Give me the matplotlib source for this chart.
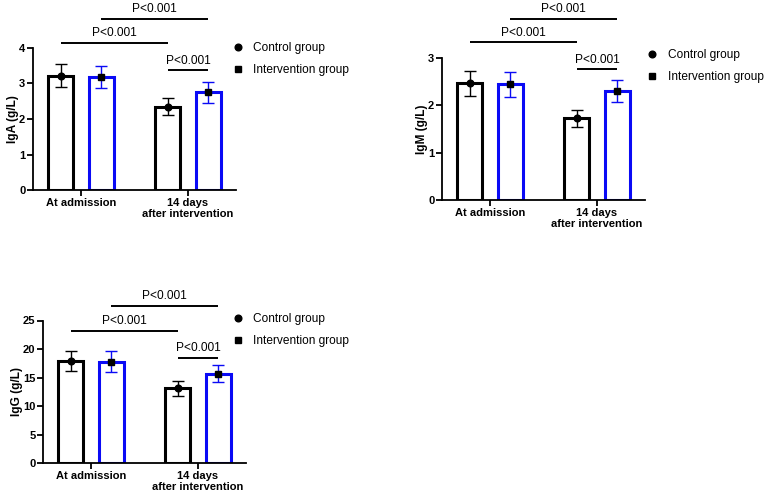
import numpy as np
import matplotlib
matplotlib.use("Agg")
import matplotlib.pyplot as plt
from matplotlib.lines import Line2D

plt.rcParams['font.family'] = ['Liberation Sans', 'DejaVu Sans']

categories = ['At admission', '14 days\nafter intervention']
groups = ['Control group', 'Intervention group']

iga_mean = {'Control group': [3.21, 2.34], 'Intervention group': [3.17, 2.75]}
iga_sd = {'Control group': [0.32, 0.24], 'Intervention group': [0.31, 0.29]}
igm_mean = {'Control group': [2.46, 1.72], 'Intervention group': [2.44, 2.30]}
igm_sd = {'Control group': [0.26, 0.18], 'Intervention group': [0.26, 0.24]}
igg_mean = {'Control group': [17.9, 13.1], 'Intervention group': [17.8, 15.7]}
igg_sd = {'Control group': [1.8, 1.3], 'Intervention group': [1.8, 1.5]}

# significance brackets: (bar from, bar to, height)
iga_sig = [(1, 3, 4.81), (0, 2, 4.14), (2, 3, 3.37)]
igm_sig = [(1, 3, 3.82), (0, 2, 3.32), (2, 3, 2.76)]
igg_sig = [(1, 3, 27.6), (0, 2, 23.2), (2, 3, 18.5)]
sig_label = 'P<0.001'

colors = {'Control group': 'black', 'Intervention group': '#0a0af5'}
markers = {'Control group': 'o', 'Intervention group': 's'}
offsets = {'Control group': -0.19, 'Intervention group': 0.19}

W, H = 767, 498
fig = plt.figure(figsize=(W / 100, H / 100), dpi=100)


def px_axes(left, top, w, h):
    return fig.add_axes([left / W, 1 - (top + h) / H, w / W, h / H])


def panel(ax, means, sds, sigs, ylabel, ymax, ystep, leg_anchor):
    x = np.arange(len(categories))
    centers = []
    for g in groups:
        xs = x + offsets[g]
        ax.bar(xs, means[g], width=0.23, facecolor='white',
               edgecolor=colors[g], linewidth=2.2, zorder=2)
        ax.errorbar(xs, means[g], yerr=sds[g], fmt=markers[g], color='black',
                    ms=4.8, ecolor=colors[g], elinewidth=1.0, capsize=4.5,
                    capthick=1.0, zorder=3)
        centers.append(xs)
    # bar order: control adm, intervention adm, control d14, intervention d14
    bar_x = [centers[0][0], centers[1][0], centers[0][1], centers[1][1]]
    for a, b, y in sigs:
        ax.plot([bar_x[a], bar_x[b]], [y, y], color='black', lw=1.4,
                clip_on=False, solid_capstyle='butt')
        ax.annotate(sig_label, ((bar_x[a] + bar_x[b]) / 2, y),
                    xytext=(0, 2.5), textcoords='offset points',
                    ha='center', va='bottom', fontsize=8.6,
                    annotation_clip=False)
    ax.set_xlim(-0.45, 1.45)
    ax.set_ylim(0, ymax)
    ax.set_yticks(np.arange(0, ymax + ystep / 2, ystep))
    ax.set_xticks(x)
    ax.set_xticklabels(categories, fontweight='bold', fontsize=8)
    for lab in ax.get_yticklabels():
        lab.set_fontweight('bold')
        lab.set_fontsize(8)
    ax.set_ylabel(ylabel, fontweight='bold', fontsize=8.6, labelpad=0)
    for s in ['top', 'right']:
        ax.spines[s].set_visible(False)
    for s in ['left', 'bottom']:
        ax.spines[s].set_linewidth(1.3)
    ax.tick_params(width=1.3, length=4, pad=1.5)
    handles = [Line2D([], [], ls='none', marker=markers[g], color='black',
                      ms=4.8) for g in groups]
    ax.legend(handles, groups, loc='upper left', bbox_to_anchor=leg_anchor,
              frameon=False, fontsize=8.6, borderpad=0, borderaxespad=0,
              handlelength=1.0, handletextpad=0.8, labelspacing=0.82)


ax1 = px_axes(33, 47.7, 203, 142.5)
panel(ax1, iga_mean, iga_sd, iga_sig, 'IgA (g/L)', 4, 1, (0.98, 1.04))
ax2 = px_axes(442, 57.7, 203, 142.5)
panel(ax2, igm_mean, igm_sd, igm_sig, 'IgM (g/L)', 3, 1, (1.005, 1.06))
ax3 = px_axes(43, 320.5, 203, 142.5)
panel(ax3, igg_mean, igg_sd, igg_sig, 'IgG (g/L)', 25, 5, (0.93, 1.053))

fig.savefig('out.png', dpi=100)
